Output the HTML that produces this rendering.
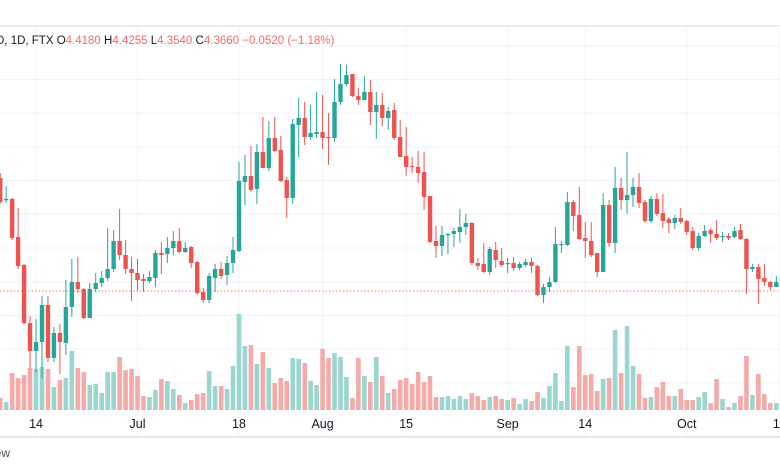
<!DOCTYPE html>
<html><head><meta charset="utf-8"><style>
html,body{margin:0;padding:0;background:#fff;}
svg{display:block;font-family:"Liberation Sans",sans-serif;}
</style></head><body>
<svg id="chart" width="780" height="470" viewBox="0 0 780 470" xmlns="http://www.w3.org/2000/svg">
<rect x="0" y="0" width="780" height="470" fill="#fff"/>
<line x1="0" y1="26" x2="780" y2="26" stroke="#e6e8ee" stroke-width="1.5"/>
<g id="grid"></g>
<g id="vol"></g>
<line id="lastline" x1="0" x2="780" stroke="#e0855a" stroke-width="1" stroke-dasharray="1.5,2"/>
<g id="candles"></g>
<line x1="0" y1="437" x2="780" y2="437" stroke="#e6e8ee" stroke-width="2"/>
<g id="xaxis"></g>
<text x="-4" y="44" font-size="11.5" fill="#131722">D, 1D, FTX <tspan fill="#131722">O</tspan><tspan fill="#ef6b67">4.4180</tspan> <tspan fill="#131722">H</tspan><tspan fill="#ef6b67">4.4255</tspan> <tspan fill="#131722">L</tspan><tspan fill="#ef6b67">4.3540</tspan> <tspan fill="#131722">C</tspan><tspan fill="#ef6b67">4.3660</tspan> <tspan fill="#ef6b67">−0.0520 (−1.18%)</tspan></text>
<text x="10" y="457" font-size="12" fill="#555" text-anchor="end">TradingView</text>
</svg>
<script>
const opens=[5.50,5.28,5.29,4.91,4.63,4.05,3.77,3.86,4.23,3.70,3.95,3.85,4.21,4.46,4.39,4.10,4.39,4.45,4.50,4.59,4.87,4.73,4.59,4.55,4.49,4.47,4.50,4.75,4.74,4.80,4.87,4.76,4.81,4.66,4.36,4.28,4.50,4.59,4.53,4.65,4.77,5.46,5.52,5.39,5.76,5.60,5.90,5.78,5.48,5.30,6.03,6.10,5.91,5.94,5.96,5.91,5.90,6.26,6.44,6.54,6.32,6.28,6.36,6.16,6.23,6.10,6.18,5.91,5.72,5.62,5.61,5.56,5.32,4.87,4.82,4.93,4.94,4.96,5.01,5.05,4.65,4.64,4.56,4.78,4.67,4.64,4.65,4.60,4.63,4.66,4.62,4.33,4.41,4.46,4.83,4.83,5.26,5.13,4.90,4.87,4.75,4.56,5.23,4.85,5.40,5.28,5.33,5.41,5.26,5.07,5.29,5.15,5.09,5.05,5.10,5.07,4.97,4.80,4.92,4.98,4.94,4.91,4.92,4.91,4.98,4.89,4.59,4.61,4.50,4.46,4.41];
const highs=[5.55,5.42,5.30,5.20,4.64,4.12,4.09,4.32,4.32,4.01,4.04,4.48,4.69,4.71,4.40,4.45,4.55,4.57,5.00,4.98,5.19,4.88,4.71,4.69,4.54,4.57,4.78,4.86,4.91,4.97,5.00,4.86,4.82,4.67,4.40,4.55,4.64,4.66,4.72,4.91,5.66,5.73,5.82,5.84,6.11,6.07,6.11,5.92,5.51,6.09,6.30,6.26,6.23,6.36,6.33,6.15,6.49,6.64,6.63,6.54,6.40,6.52,6.48,6.36,6.35,6.21,6.25,6.08,6.01,5.71,5.77,5.76,5.32,5.02,5.02,4.95,5.00,5.19,5.14,5.06,4.70,4.85,4.81,4.86,4.80,4.70,4.71,4.66,4.69,4.70,4.63,4.44,4.51,5.01,4.87,5.36,5.28,5.41,5.06,5.06,4.75,5.35,5.28,5.61,5.50,5.76,5.50,5.55,5.28,5.32,5.35,5.34,5.11,5.13,5.20,5.08,5.01,4.95,5.03,5.00,5.08,4.96,4.95,5.01,5.04,4.90,4.64,4.64,4.64,4.47,4.52];
const lows=[5.24,5.25,4.88,4.59,4.04,3.60,3.56,3.50,3.66,3.66,3.54,3.73,4.11,4.35,4.09,4.10,4.36,4.41,4.47,4.56,4.68,4.54,4.27,4.38,4.36,4.45,4.41,4.54,4.65,4.73,4.75,4.75,4.60,4.33,4.25,4.25,4.36,4.49,4.43,4.55,4.76,5.23,5.36,5.24,5.60,5.57,5.76,5.46,5.10,5.24,5.71,5.83,5.88,5.90,5.79,5.63,5.86,6.23,6.42,6.31,6.23,6.28,6.03,5.89,6.02,5.98,5.88,5.71,5.52,5.55,5.45,5.18,4.85,4.70,4.72,4.74,4.81,4.85,4.93,4.63,4.58,4.55,4.53,4.60,4.61,4.55,4.57,4.58,4.61,4.55,4.32,4.25,4.36,4.45,4.75,4.82,4.97,4.88,4.70,4.71,4.51,4.56,4.81,4.75,5.18,5.14,5.21,5.20,5.05,5.05,5.12,5.00,4.95,4.99,5.04,4.93,4.78,4.77,4.91,4.85,4.88,4.86,4.88,4.90,4.88,4.34,4.56,4.24,4.42,4.38,4.41];
const closes=[5.26,5.29,4.90,4.62,4.05,3.77,3.86,4.23,3.70,3.95,3.86,4.21,4.46,4.39,4.10,4.39,4.45,4.50,4.59,4.87,4.73,4.59,4.55,4.48,4.47,4.51,4.75,4.73,4.80,4.87,4.76,4.80,4.65,4.35,4.28,4.52,4.59,4.52,4.65,4.78,5.47,5.52,5.38,5.76,5.60,5.90,5.77,5.47,5.30,6.04,6.10,5.91,5.95,5.96,5.90,5.90,6.26,6.44,6.53,6.32,6.28,6.36,6.16,6.23,6.10,6.17,5.90,5.71,5.61,5.61,5.55,5.31,4.86,4.82,4.93,4.94,4.97,5.01,5.05,4.65,4.62,4.56,4.79,4.68,4.63,4.65,4.60,4.64,4.66,4.62,4.33,4.41,4.46,4.84,4.84,5.26,5.12,4.89,4.87,4.73,4.56,5.23,4.85,5.40,5.28,5.33,5.41,5.25,5.07,5.29,5.14,5.07,5.05,5.10,5.06,4.96,4.80,4.92,4.97,4.94,4.90,4.92,4.90,4.97,4.89,4.59,4.61,4.49,4.46,4.41,4.46];
const volumes=[12,8,37,32,35,42,41,43,41,23,30,32,59,42,38,25,26,17,38,38,53,40,41,34,14,13,20,31,29,21,15,7,10,16,17,39,24,24,21,44,96,64,65,46,58,42,27,32,29,52,51,47,29,25,61,52,57,53,33,12,52,34,28,53,34,17,21,30,32,26,38,28,34,13,13,14,11,14,11,17,14,10,13,14,11,10,12,6,11,9,18,12,24,37,9,64,23,64,35,36,19,31,32,80,37,84,44,36,12,13,23,28,14,14,21,10,10,13,18,7,31,11,3,7,14,54,15,36,16,7,7];
const tickLabels=["14","Jul","18","Aug","15","Sep","14","Oct","15"];
const tickIndex=[6,23,40,54,68,85,98,115,130.6];
const lastPrice=4.37;

const NS="http://www.w3.org/2000/svg";
const xOf=i=>0.2+i*5.97;
const yOf=p=>728-p*100;
const vY=v=>410-v;
function mk(tag,parent,attrs){const e=document.createElementNS(NS,tag);for(const k in attrs)e.setAttribute(k,attrs[k]);parent.appendChild(e);return e;}

const grid=document.getElementById('grid');
[46,79.5,113,147,180.5,214,248,282,315.5,349,383].forEach(y=>{
  const l=mk('line',grid,{x1:0,x2:780,y1:y,y2:y,stroke:'#f0f3fa','stroke-width':1});
  
  
});
const xaxis=document.getElementById('xaxis');
tickLabels.forEach((t,k)=>{
  const x=xOf(tickIndex[k]);
  const l=mk('line',grid,{x1:x,x2:x,y1:26,y2:436,stroke:'#f0f3fa','stroke-width':1});
  
  
  const tx=mk('text',xaxis,{x:x,y:428,'font-size':12.5,fill:'#131722','text-anchor':'middle'});
  tx.textContent=t;
  
  
});

const vol=document.getElementById('vol');
volumes.forEach((v,i)=>{
  const up=closes[i]>=opens[i];
  const r=mk('rect',vol,{x:xOf(i)-2.3,y:vY(v),width:4.6,height:410-vY(v),fill:up?'#9ad5cf':'#f5aaa8'});
  
  
});

const ll=document.getElementById('lastline');
ll.setAttribute('y1',yOf(lastPrice));ll.setAttribute('y2',yOf(lastPrice));

const cg=document.getElementById('candles');
opens.forEach((o,i)=>{
  const c=closes[i],up=c>=o,col=up?'#26a69a':'#ef5350',x=xOf(i);
  const g=mk('g',cg,{});
  
  
  mk('line',g,{x1:x,x2:x,y1:yOf(highs[i]),y2:yOf(lows[i]),stroke:col,'stroke-width':1});
  const top=Math.min(yOf(o),yOf(c)),h=Math.max(1.2,Math.abs(yOf(o)-yOf(c)));
  mk('rect',g,{x:x-2.2,y:top,width:4.4,height:h,fill:col});
});
</script>
</body></html>
